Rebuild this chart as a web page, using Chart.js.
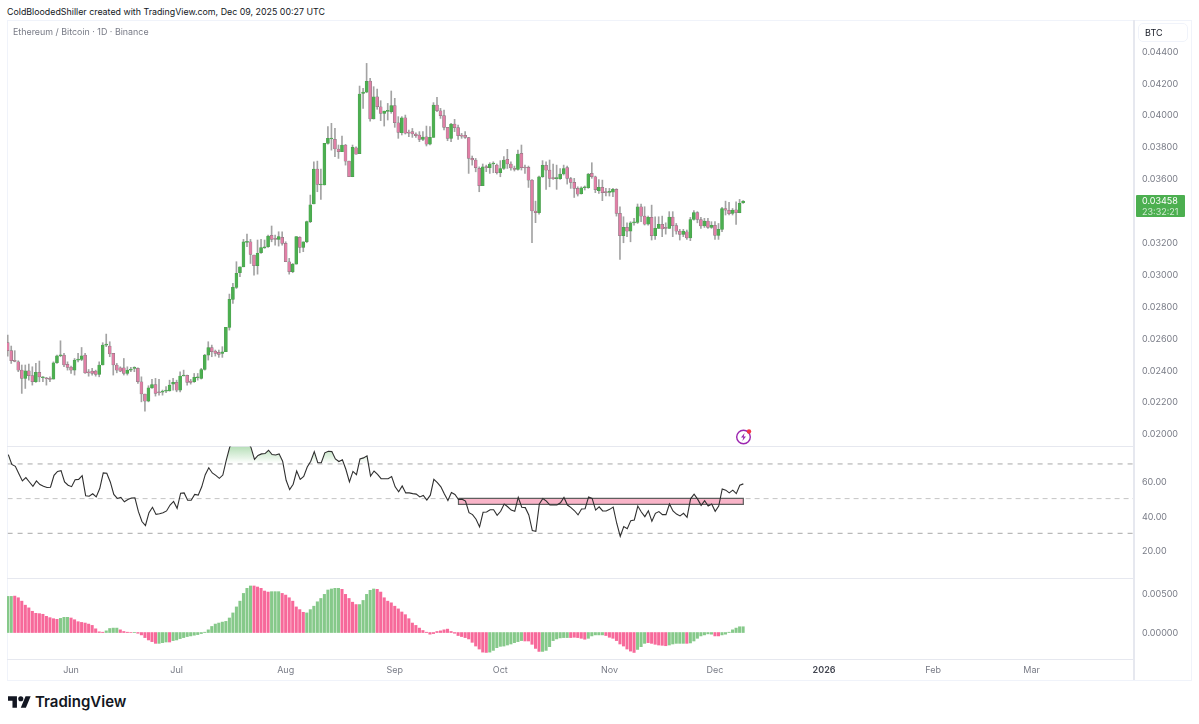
<!DOCTYPE html>
<html>
<head>
<meta charset="utf-8">
<title>Ethereum / Bitcoin</title>
<script src="https://cdn.jsdelivr.net/npm/chart.js@4"></script>
<style>
  html, body { margin: 0; padding: 0; background: #fff; }
  body { width: 1199px; height: 724px; position: relative; overflow: hidden; font-family: Inter, "Liberation Sans", sans-serif; }
  .abs { position: absolute; }
  canvas { position: absolute; left: 7px; }
  .sep { position: absolute; background: #e6e8ef; }
</style>
</head>
<body>
<div class="abs" style="left:7px;top:5px;font-size:8.85px;line-height:13px;color:#131722;white-space:nowrap">ColdBloodedShiller created with TradingView.com, Dec 09, 2025 00:27 UTC</div>

<!-- marcos de los paneles -->
<div class="sep" style="left:7px;top:20px;width:1185px;height:1px;background:#f0f3fa"></div>
<div class="sep" style="left:7px;top:680px;width:1185px;height:1px;background:#f0f3fa"></div>
<div class="sep" style="left:7px;top:20px;width:1px;height:660px;background:#f0f3fa"></div>
<div class="sep" style="left:1191px;top:20px;width:1px;height:660px;background:#f0f3fa"></div>
<div class="sep" style="left:1133px;top:20px;width:2px;height:660px"></div>
<div class="sep" style="left:7px;top:446px;width:1126px;height:1px"></div>
<div class="sep" style="left:7px;top:578px;width:1126px;height:1px"></div>
<div class="sep" style="left:7px;top:659px;width:1126px;height:1px"></div>

<canvas id="chartPrecio" width="1185" height="425" style="top:21px"></canvas>
<canvas id="chartRsi" width="1185" height="132" style="top:446px"></canvas>
<canvas id="chartMacd" width="1185" height="102" style="top:578px"></canvas>

<div class="abs" style="left:13px;top:25px;font-size:8.9px;line-height:13px;color:#787b86;white-space:nowrap">Ethereum / Bitcoin · 1D · Binance</div>
<div class="abs" style="left:1138px;top:23px;width:50px;height:19px;box-sizing:border-box;border:1px solid #f0f3fa;border-radius:5px;font-size:9px;line-height:17px;padding-left:6px;color:#131722">BTC</div>
<div class="abs" style="left:1136px;top:195px;width:49px;height:22px;background:#4caf50;border-radius:1px;color:#fff;font-size:9px;line-height:11px;padding-left:6px;box-sizing:border-box"><div>0.03458</div><div style="opacity:.75">23:32:21</div></div>

<svg class="abs" style="left:734px;top:427px" width="20" height="20" viewBox="0 0 20 20">
  <circle cx="9.5" cy="10" r="6.8" fill="none" stroke="#9c27b0" stroke-width="1.4"/>
  <path d="M10.6 6 7 10.6h2.3L8.4 14l3.6-4.6H9.7z" fill="#9c27b0"/>
  <circle cx="15" cy="4.5" r="2.2" fill="#f23645"/>
</svg>

<svg class="abs" style="left:8px;top:695px" width="23" height="14" viewBox="0 4 36 18">
  <path d="M14 22H7V11H0V4h14v18zM28 22h-8l7.5-18h8L28 22z" fill="#131722"/>
  <circle cx="20" cy="8" r="4" fill="#131722"/>
</svg>
<div class="abs" style="left:35px;top:692px;font-size:15px;line-height:20px;font-weight:600;color:#131722;white-space:nowrap">TradingView</div>

<script>
// ---------- Datos ----------
// Velas diarias ETH/BTC desde 14 may 2025, en cienmilesimas de BTC
var opens = [
  2570,2520,2457,2450,2398,2346,2394,2363,2325,2384,
  2350,2350,2346,2342,2444,2488,2492,2434,2417,2398,
  2461,2465,2492,2388,2392,2392,2371,2430,2555,2549,
  2503,2430,2413,2413,2377,2398,2409,2409,2325,2248,
  2204,2287,2308,2262,2260,2266,2268,2310,2321,2273,
  2361,2365,2329,2325,2350,2346,2402,2492,2540,2517,
  2509,2503,2513,2666,2842,2917,3009,3046,3199,3203,
  3120,3053,3134,3164,3172,3243,3222,3218,3231,3193,
  3078,3015,3063,3231,3168,3203,3329,3440,3659,3559,
  3559,3820,3848,3845,3785,3768,3810,3709,3611,3793,
  3756,4134,4142,4211,3973,4113,4050,4009,4021,4019,
  4057,3950,3887,3981,3889,3894,3879,3873,3845,3862,
  3816,3858,4061,4025,3994,3921,3852,3942,3919,3871,
  3871,3856,3726,3716,3664,3555,3674,3668,3691,3684,
  3636,3663,3720,3691,3663,3657,3758,3670,3670,3590,
  3396,3385,3611,3682,3653,3603,3599,3599,3628,3668,
  3599,3576,3538,3505,3542,3542,3632,3611,3523,3544,
  3515,3513,3515,3532,3381,3241,3293,3270,3322,3325,
  3423,3364,3314,3356,3241,3287,3312,3291,3287,3358,
  3304,3270,3249,3266,3228,3343,3387,3343,3302,3333,
  3293,3306,3243,3281,3412,3400,3381,3404,3385,3448
];
var highs = [
  2618,2549,2520,2457,2430,2430,2436,2419,2440,2455,
  2358,2352,2356,2450,2492,2582,2503,2450,2423,2471,
  2503,2540,2503,2402,2409,2398,2450,2570,2624,2576,
  2503,2440,2419,2471,2419,2415,2419,2413,2356,2248,
  2300,2340,2346,2340,2273,2294,2335,2346,2335,2388,
  2398,2367,2340,2377,2377,2409,2497,2576,2555,2524,
  2524,2545,2666,2875,2942,3078,3046,3218,3251,3218,
  3120,3214,3218,3214,3245,3302,3245,3266,3266,3203,
  3099,3067,3235,3235,3203,3333,3496,3705,3709,3659,
  3820,3925,3946,3914,3810,3866,3814,3709,3810,3799,
  4180,4165,4322,4228,4176,4161,4088,4023,4071,4149,
  4103,3988,3988,3998,3904,3914,3887,3894,3894,3929,
  3925,4076,4109,4040,4029,3921,3946,3971,3935,3883,
  3894,3858,3741,3726,3673,3691,3684,3699,3705,3691,
  3712,3737,3783,3705,3678,3779,3810,3684,3678,3594,
  3458,3615,3712,3705,3716,3691,3684,3663,3684,3678,
  3607,3601,3548,3548,3553,3632,3699,3615,3594,3590,
  3538,3538,3538,3536,3423,3360,3322,3329,3350,3440,
  3440,3423,3364,3433,3360,3360,3364,3322,3392,3392,
  3318,3281,3281,3277,3356,3398,3392,3356,3350,3350,
  3329,3329,3318,3419,3458,3450,3412,3454,3469,3461
];
var lows = [
  2486,2440,2450,2388,2252,2283,2335,2304,2321,2325,
  2325,2304,2325,2342,2440,2482,2419,2398,2377,2367,
  2450,2457,2377,2360,2367,2360,2356,2430,2545,2482,
  2367,2381,2388,2367,2367,2388,2388,2315,2199,2141,
  2199,2283,2235,2241,2241,2256,2266,2273,2262,2262,
  2361,2304,2310,2321,2335,2342,2398,2461,2482,2486,
  2478,2478,2513,2649,2817,2910,2984,3046,3172,3067,
  2994,3000,3130,3162,3168,3203,3182,3176,3182,3078,
  3000,3009,3063,3134,3141,3197,3323,3440,3517,3469,
  3559,3816,3778,3737,3726,3768,3684,3611,3611,3753,
  3756,4040,4138,3960,3973,4034,3963,3929,3967,4009,
  3921,3852,3873,3879,3862,3858,3858,3831,3837,3804,
  3810,3858,4019,3977,3904,3837,3831,3894,3845,3852,
  3852,3632,3684,3642,3517,3555,3643,3632,3636,3628,
  3611,3657,3663,3653,3647,3653,3653,3632,3544,3197,
  3323,3377,3607,3532,3548,3594,3532,3594,3622,3565,
  3538,3481,3490,3502,3528,3538,3601,3511,3507,3461,
  3490,3490,3486,3364,3092,3197,3235,3203,3308,3318,
  3329,3308,3308,3214,3218,3287,3235,3251,3287,3235,
  3251,3214,3235,3218,3210,3339,3322,3287,3293,3287,
  3287,3218,3218,3266,3371,3371,3371,3312,3385,3444
];
var closes = [
  2520,2457,2453,2398,2346,2394,2363,2325,2384,2356,
  2356,2344,2340,2444,2488,2492,2430,2415,2398,2461,
  2467,2488,2381,2381,2377,2371,2430,2555,2561,2499,
  2430,2398,2392,2377,2398,2402,2413,2325,2248,2204,
  2287,2308,2252,2256,2264,2273,2304,2321,2273,2361,
  2365,2321,2321,2352,2356,2402,2492,2540,2513,2503,
  2497,2513,2666,2842,2917,3005,3046,3203,3205,3124,
  3053,3130,3166,3172,3239,3218,3218,3235,3193,3078,
  3015,3063,3235,3168,3203,3329,3435,3659,3563,3563,
  3820,3852,3852,3785,3768,3810,3709,3611,3795,3753,
  4130,4142,4209,3973,4113,4050,4009,4023,4027,4057,
  3950,3889,3981,3885,3885,3879,3868,3845,3860,3816,
  3858,4061,4025,3994,3921,3852,3942,3919,3868,3866,
  3858,3726,3716,3668,3555,3674,3668,3691,3695,3636,
  3663,3716,3691,3666,3657,3753,3668,3666,3590,3396,
  3385,3611,3682,3653,3601,3599,3603,3628,3663,3601,
  3576,3538,3502,3542,3546,3628,3611,3530,3544,3511,
  3511,3517,3532,3381,3241,3293,3270,3322,3327,3423,
  3364,3314,3356,3241,3287,3312,3283,3287,3358,3304,
  3270,3249,3270,3228,3343,3387,3343,3302,3333,3293,
  3306,3243,3281,3412,3402,3379,3402,3385,3444,3458
];
var rsiValues = [
  75.4,69.7,68.6,64.4,60.2,62.1,59.6,57.1,60.2,58.1,
  57.1,56.4,56.6,63.4,65.7,66.1,59.6,57.7,56.9,60.9,
  61.1,63.2,51.6,51.4,52.8,51.0,55.8,64.8,64.6,59.6,
  52.4,50.1,50.7,48.2,49.5,50.3,50.5,42.5,36.8,34.5,
  41.9,45.0,40.9,41.3,41.9,42.9,46.3,48.4,44.4,53.1,
  53.3,49.1,49.1,52.4,52.0,56.8,63.8,67.8,64.8,63.4,
  61.7,63.6,72.4,80.0,82.0,85.0,87.0,85.0,83.0,79.5,
  72.6,74.9,75.8,76.0,77.9,75.4,75.2,75.8,71.6,60.6,
  55.2,58.3,65.9,61.1,62.8,68.2,71.6,77.1,70.7,70.7,
  76.4,77.3,77.1,72.9,71.4,72.4,66.8,59.6,65.7,63.8,
  72.9,73.5,74.7,63.0,65.9,64.0,61.5,61.5,61.5,62.7,
  56.8,53.9,57.3,53.3,53.3,52.9,52.6,51.0,51.8,49.1,
  52.0,61.1,59.2,56.8,52.6,48.9,53.5,52.4,49.5,49.7,
  48.6,41.9,40.8,38.1,33.7,42.1,42.3,43.6,43.6,40.4,
  42.7,46.9,45.3,43.4,42.7,50.7,45.0,44.8,40.6,31.6,
  31.2,46.9,50.1,48.6,46.3,46.3,46.3,47.6,50.7,46.3,
  44.8,43.0,40.6,44.0,44.2,51.0,50.1,43.4,45.3,42.9,
  42.9,43.8,45.1,35.8,28.2,33.9,32.6,37.3,37.7,45.7,
  42.3,39.6,43.0,36.9,41.5,42.5,40.8,40.8,46.9,42.9,
  41.1,40.0,41.5,39.2,49.9,52.6,49.7,46.1,48.8,45.7,
  46.9,42.7,45.7,55.6,54.9,53.3,54.9,52.9,57.7,58.5
];
// histograma, tambien en cienmilesimas
var macdValues = [
  457,457,461,440,397,346,312,269,243,239,
  231,205,188,175,167,179,192,192,184,162,
  137,128,120,107,90,47,9,4,21,51,
  56,56,34,13,4,1,-2,-9,-30,-64,
  -94,-115,-137,-137,-128,-120,-120,-102,-94,-77,
  -64,-51,-43,-34,-26,-13,4,34,77,107,
  120,132,141,184,248,324,397,495,559,589,
  589,576,559,525,512,517,517,517,495,474,
  440,397,324,290,256,248,290,333,389,431,
  483,538,551,559,559,547,483,431,384,354,
  354,406,483,534,551,547,512,440,397,376,
  333,299,260,226,175,120,90,56,26,4,
  -21,-13,13,21,34,43,13,-9,-38,-51,
  -64,-81,-124,-171,-209,-248,-252,-248,-226,-192,
  -175,-171,-158,-145,-128,-115,-102,-107,-107,-149,
  -201,-239,-239,-226,-179,-102,-81,-68,-64,-64,
  -64,-60,-64,-73,-85,-73,-43,-30,-30,-30,
  -38,-60,-73,-102,-145,-171,-209,-235,-252,-214,
  -179,-137,-128,-137,-149,-158,-162,-167,-158,-145,
  -137,-137,-137,-137,-132,-107,-73,-43,-30,-17,
  -21,-43,-43,-30,-21,4,34,56,73,73
];
// tramos (primer y ultimo dia) con barra verde; el resto va en rosa
var macdGreenRuns = [[0,1],[15,17],[28,31],[36,36],[43,45],[47,69],[75,77],[85,94],[100,104],
  [137,146],[152,159],[165,169],[179,181],[188,192],[194,200],[203,209]];

// Eje de tiempo: indice del dia desde el 14 may
var monthTicks = [18, 48, 79, 110, 140, 171, 201, 232, 263, 291];
var monthLabels = ['Jun', 'Jul', 'Aug', 'Sep', 'Oct', 'Nov', 'Dec', '2026', 'Feb', 'Mar'];
var priceTicks = [0.02, 0.022, 0.024, 0.026, 0.028, 0.03, 0.032, 0.036, 0.038, 0.04, 0.042, 0.044];
var rsiTicks = [20, 40, 60];
var rsiBands = [70, 50, 30];
var macdTicks = [0, 0.005];

// Zona marcada en el RSI
var zoneFirstDay = 128, zoneLastDay = 209, zoneTop = 50.1, zoneBottom = 46.7;

// ---------- Rangos y colores ----------
var X_MIN = -0.2, X_MAX = 319.8;
var GREEN = '#4caf50', PINK = '#e07fa6', WICK = '#a3a3a3', OUTLINE = '#7a7a7a';
var LABEL = '#787b86', FONT = 'Inter, "Liberation Sans", sans-serif';
var AXIS_W = 59;

function _btc(v) { return v / 1e5; }

function _es2026(c) {
    return !!c.tick && monthLabels[monthTicks.indexOf(c.tick.value)] === '2026';
}

// quita el margen que Chart.js reserva para las etiquetas de los extremos
function _sinMargen(s) {
    s.paddingTop = s.paddingBottom = s.paddingLeft = s.paddingRight = 0;
}

function _xAxis(show) {
    return {
        type: 'linear', display: show, min: X_MIN, max: X_MAX, offset: false,
        grid: { display: false, drawTicks: false }, border: { display: false },
        afterBuildTicks: function (s) { s.ticks = monthTicks.map(function (v) { return { value: v }; }); },
        afterFit: function (s) { if (show) s.height = 21; _sinMargen(s); },
        ticks: {
            autoSkip: false, maxRotation: 0, padding: 6,
            color: function (c) { return _es2026(c) ? '#434651' : LABEL; },
            font: function (c) { return { family: FONT, size: 9, weight: _es2026(c) ? '600' : '400' }; },
            callback: function (v) { return monthLabels[monthTicks.indexOf(v)]; }
        }
    };
}

function _yAxis(min, max, tickList, fmt) {
    return {
        position: 'right', min: min, max: max,
        grid: { display: false, drawTicks: false }, border: { display: false },
        afterBuildTicks: function (s) { s.ticks = tickList.map(function (v) { return { value: v }; }); },
        afterFit: function (s) { s.width = AXIS_W; _sinMargen(s); },
        ticks: {
            color: LABEL, padding: 9, labelOffset: 1, font: { family: FONT, size: 9 },
            callback: function (v) { return v.toFixed(fmt); }
        }
    };
}

function _opts(xShow, yAxis) {
    return {
        responsive: false, animation: false, events: [],
        layout: { padding: 0 },
        plugins: { legend: { display: false }, tooltip: { enabled: false } },
        scales: { x: _xAxis(xShow), y: yAxis }
    };
}

// ---------- Panel de precio ----------
var esVerde = closes.map(function (c, i) { return c >= opens[i]; });

new Chart(document.getElementById('chartPrecio'), {
    type: 'bar',
    data: {
        datasets: [
            {
                label: 'Mecha', order: 2, grouped: false, barThickness: 1,
                backgroundColor: WICK,
                data: highs.map(function (h, i) { return { x: i, y: [_btc(lows[i]), _btc(h)] }; })
            },
            {
                label: 'Cuerpo', order: 1, grouped: false, barThickness: 3, minBarLength: 1,
                borderWidth: 0.5, borderSkipped: false,
                backgroundColor: esVerde.map(function (v) { return v ? GREEN : PINK; }),
                borderColor: esVerde.map(function (v) { return v ? '#4a9a4d' : OUTLINE; }),
                data: opens.map(function (o, i) { return { x: i, y: [_btc(o), _btc(closes[i])] }; })
            }
        ]
    },
    options: _opts(false, _yAxis(0.01922, 0.04588, priceTicks, 5))
});

// ---------- Panel RSI ----------
function _banda(v, color, dash, width) {
    return {
        type: 'line', order: 4, borderColor: color, borderWidth: width, borderDash: dash,
        pointRadius: 0, fill: false,
        data: [{ x: X_MIN, y: v }, { x: X_MAX, y: v }]
    };
}

var chartRsi = new Chart(document.getElementById('chartRsi'), {
    type: 'line',
    data: {
        datasets: [
            {
                label: 'RSI', order: 1, borderColor: '#2f2f2f', borderWidth: 1.1, pointRadius: 0, tension: 0,
                fill: { target: { value: 70 }, above: 'rgba(76,175,80,0.25)', below: 'rgba(0,0,0,0)' },
                data: rsiValues.map(function (v, i) { return { x: i, y: v }; })
            },
            _banda(rsiBands[0], '#a8a8a8', [5, 5], 1),
            _banda(rsiBands[1], '#c4c4c4', [5, 4], 1),
            _banda(rsiBands[2], '#a8a8a8', [5, 5], 1),
            {
                label: 'Zona', order: 3, borderColor: '#5f5f5f', borderWidth: 1.2, pointRadius: 0,
                backgroundColor: '#f9b4c8', fill: 'shape',
                data: [
                    { x: zoneFirstDay, y: zoneTop }, { x: zoneLastDay, y: zoneTop },
                    { x: zoneLastDay, y: zoneBottom }, { x: zoneFirstDay, y: zoneBottom },
                    { x: zoneFirstDay, y: zoneTop }
                ]
            }
        ]
    },
    options: _opts(false, _yAxis(4.57, 80, rsiTicks, 2))
});

// degradado verde de la zona de sobrecompra, anclado a la escala
(function () {
    var esc = chartRsi.scales.y;
    var g = chartRsi.ctx.createLinearGradient(0, esc.getPixelForValue(80), 0, esc.getPixelForValue(70));
    g.addColorStop(0, 'rgba(76,175,80,0.42)');
    g.addColorStop(1, 'rgba(76,175,80,0)');
    chartRsi.data.datasets[0].fill.above = g;
    chartRsi.update('none');
})();

// ---------- Panel histograma ----------
function _macdVerde(i) {
    return macdGreenRuns.some(function (r) { return i >= r[0] && i <= r[1]; });
}

new Chart(document.getElementById('chartMacd'), {
    type: 'bar',
    data: {
        datasets: [{
            label: 'Histograma', barThickness: 2.4,
            backgroundColor: macdValues.map(function (v, i) { return _macdVerde(i) ? '#86c98a' : '#f7699a'; }),
            data: macdValues.map(function (v, i) { return { x: i, y: _btc(v) }; })
        }]
    },
    options: _opts(true, _yAxis(-0.00335, 0.0069, macdTicks, 5))
});
</script>
</body>
</html>
